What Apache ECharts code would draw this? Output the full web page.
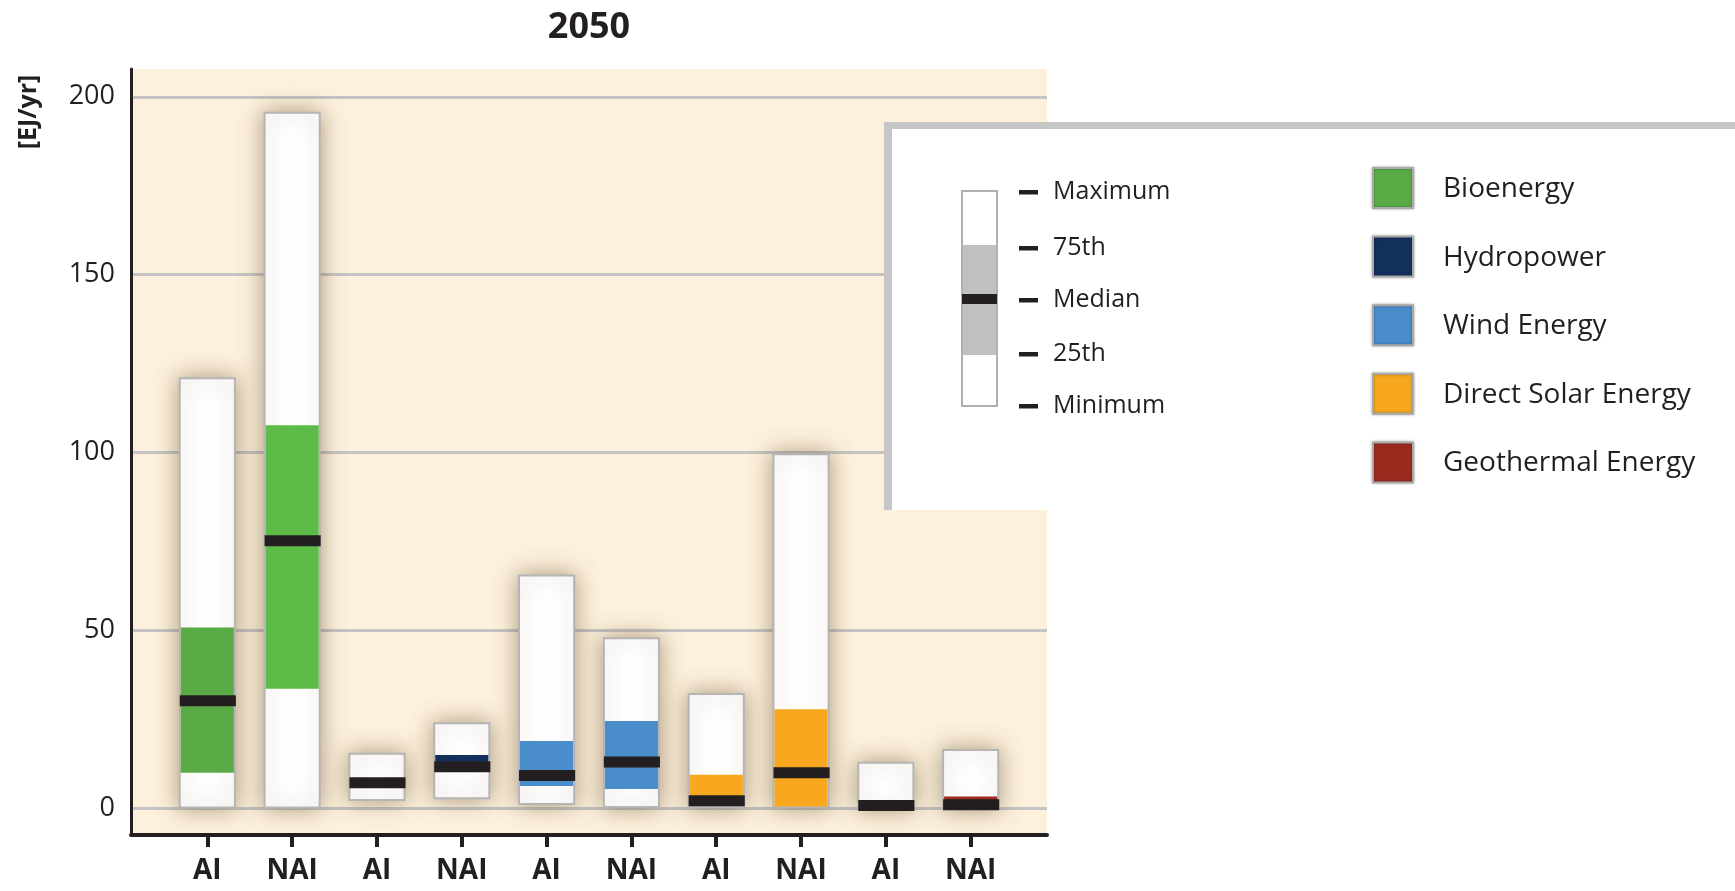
<!DOCTYPE html>
<html>
<head>
<meta charset="utf-8">
<title>2050</title>
<script src="https://cdn.jsdelivr.net/npm/echarts@6/dist/echarts.min.js"></script>
<style>
  html, body { margin: 0; padding: 0; background: #fff; }
  #chart { width: 1735px; height: 891px; }
</style>
</head>
<body>
<div id="chart"></div>
<script>
// region groups (AI = Annex I, NAI = Non-Annex I), one box per source and group
const categories = ['AI', 'NAI', 'AI', 'NAI', 'AI', 'NAI', 'AI', 'NAI', 'AI', 'NAI'];
const sources = ['Bioenergy', 'Bioenergy', 'Hydropower', 'Hydropower', 'Wind Energy', 'Wind Energy',
  'Direct Solar Energy', 'Direct Solar Energy', 'Geothermal Energy', 'Geothermal Energy'];

// EJ/yr in 2050
const minimum = [0.3, 0.3, 2.4, 2.9, 1.3, 0.5, 0.5, 0.5, 0.0, 0.0];
const p25 = [10.1, 33.7, 6.2, 10.3, 6.4, 5.5, 1.0, 0.6, 0.3, 0.5];
const median = [30.3, 75.3, 7.3, 11.8, 9.3, 13.1, 2.2, 10.1, 0.9, 1.1];
const p75 = [50.9, 107.7, 8.4, 15.1, 19.0, 24.6, 9.5, 27.9, 1.5, 3.4];
const maximum = [120.9, 195.5, 15.4, 24.0, 65.5, 47.9, 32.2, 99.6, 12.9, 16.5];

const yTicks = [0, 50, 100, 150, 200];
const percentileLabels = ['Maximum', '75th', 'Median', '25th', 'Minimum'];
const legendSources = ['Bioenergy', 'Hydropower', 'Wind Energy', 'Direct Solar Energy', 'Geothermal Energy'];

const sourceColors = {
  'Bioenergy': '#5aab46',
  'Hydropower': '#13305c',
  'Wind Energy': '#4a8dcb',
  'Direct Solar Energy': '#f8a81f',
  'Geothermal Energy': '#9b2b1f'
};
const FONT = "'Open Sans', 'Noto Sans', sans-serif";
const INK = '#231f20';

const chart = echarts.init(document.getElementById('chart'));

const boxData = categories.map((c, i) => [i, minimum[i], p25[i], median[i], p75[i], maximum[i]]);
const xPositions = categories.map((c, i) => i);

function renderBox(params, api) {
  const i = api.value(0);
  const w = api.size([1, 0])[0] * 0.65;
  const pMin = api.coord([i, api.value(1)]);
  const pQ1 = api.coord([i, api.value(2)]);
  const pMed = api.coord([i, api.value(3)]);
  const pQ3 = api.coord([i, api.value(4)]);
  const pMax = api.coord([i, api.value(5)]);
  const x = pMin[0] - w / 2;
  let fill = sourceColors[sources[params.dataIndex]];
  if (params.dataIndex === 1) fill = '#5dbb47';
  return {
    type: 'group',
    children: [
      {
        type: 'rect',
        shape: { x: x, y: pMax[1], width: w, height: pMin[1] - pMax[1] },
        style: { fill: '#fff', stroke: '#b5b5b5', lineWidth: 2, shadowBlur: 22, shadowColor: 'rgba(105,80,45,0.55)' }
      },
      {
        type: 'rect',
        shape: { x: x + 1, y: pQ3[1], width: w - 2, height: pQ1[1] - pQ3[1] },
        style: { fill: fill }
      },
      {
        type: 'rect',
        shape: { x: x, y: pMed[1] - 5.5, width: w + 1, height: 11 },
        style: { fill: INK }
      }
    ]
  };
}

// legend panel (drawn on top of the plot, like the original)
const legendEls = [
  { type: 'rect', shape: { x: 884, y: 122, width: 900, height: 388 }, style: { fill: '#c6c6c6' } },
  { type: 'rect', shape: { x: 892, y: 129, width: 900, height: 381 }, style: { fill: '#fff' } },
  { type: 'rect', shape: { x: 962, y: 191, width: 35, height: 215 }, style: { fill: '#fff', stroke: '#b0b0b0', lineWidth: 2 } },
  { type: 'rect', shape: { x: 963, y: 245, width: 33, height: 110 }, style: { fill: '#bfc0c2' } },
  { type: 'rect', shape: { x: 962, y: 294, width: 35, height: 10 }, style: { fill: INK } }
];
const pctY = [192, 248, 300, 354, 406];
percentileLabels.forEach((t, k) => {
  legendEls.push({ type: 'rect', shape: { x: 1019, y: pctY[k] - 2, width: 19, height: 4.5 }, style: { fill: INK } });
  legendEls.push({
    type: 'text', x: 1053, y: pctY[k],
    style: { text: t, fill: INK, font: '25px ' + FONT, textAlign: 'left', textVerticalAlign: 'middle' }
  });
});
legendSources.forEach((s, k) => {
  const cy = 188 + k * 68.6;
  legendEls.push({
    type: 'rect', shape: { x: 1373, y: cy - 20, width: 40, height: 40 },
    style: { fill: sourceColors[s], stroke: '#a9a9a9', lineWidth: 2, shadowBlur: 3, shadowColor: 'rgba(0,0,0,0.3)' }
  });
  legendEls.push({
    type: 'text', x: 1443, y: cy + 1,
    style: { text: s, fill: INK, font: '28px ' + FONT, textAlign: 'left', textVerticalAlign: 'middle' }
  });
});
legendEls.forEach(el => { el.z = 100; });

const option = {
  animation: false,
  backgroundColor: '#fff',
  title: {
    text: '2050',
    left: 589,
    top: 10,
    textAlign: 'center',
    padding: 0,
    textStyle: { fontSize: 36, fontWeight: 'bold', color: INK, fontFamily: FONT }
  },
  grid: {
    left: 131,
    right: 688,
    top: 69,
    bottom: 56,
    show: true,
    backgroundColor: '#fdf1dd',
    borderWidth: 0
  },
  xAxis: {
    type: 'value',
    min: -0.9,
    max: 9.9,
    splitLine: { show: false },
    axisLine: { show: true, onZero: false, lineStyle: { color: INK, width: 4 } },
    axisTick: { show: true, customValues: xPositions, length: 12, lineStyle: { color: INK, width: 4 } },
    axisLabel: {
      customValues: xPositions,
      formatter: v => categories[Math.round(v)],
      fontSize: 28,
      fontWeight: 'bold',
      color: INK,
      fontFamily: FONT,
      margin: 22
    }
  },
  yAxis: {
    type: 'value',
    min: -7.4,
    max: 207.8,
    splitNumber: 4,
    axisLine: { show: true, onZero: false, lineStyle: { color: INK, width: 3 } },
    axisTick: { show: false, customValues: yTicks },
    axisLabel: { customValues: yTicks, fontSize: 27, color: INK, fontFamily: FONT, margin: 16 },
    splitLine: { show: true, lineStyle: { color: '#c4c4c4', width: 3 } }
  },
  graphic: [
    {
      type: 'text', x: 29, y: 112, rotation: Math.PI / 2,
      style: { text: '[EJ/yr]', fill: INK, font: 'bold 25px ' + FONT, textAlign: 'center', textVerticalAlign: 'middle' }
    }
  ].concat(legendEls),
  series: [
    {
      type: 'custom',
      name: '2050',
      renderItem: renderBox,
      encode: { x: 0, y: [1, 2, 3, 4, 5] },
      data: boxData
    }
  ]
};

chart.setOption(option);
</script>
</body>
</html>
